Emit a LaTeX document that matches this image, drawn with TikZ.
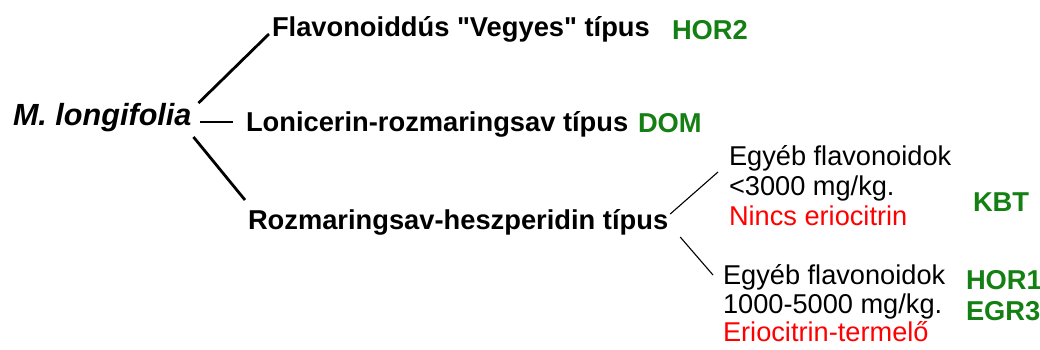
\documentclass[tikz,border=0pt]{standalone}
\usepackage{fontspec}
% plain family without TeX input mapping, so that " stays a straight quote
\newfontfamily\labelfont{Liberation Sans}
\usetikzlibrary{calc}
\definecolor{typegreen}{RGB}{20,128,20}
\definecolor{notered}{RGB}{255,0,0}
\begin{document}
\begin{tikzpicture}[x=1pt,y=-1pt,
  every node/.style={inner sep=0pt,outer sep=0pt},
  species/.style={anchor=base west,font=\labelfont\fontsize{30.6}{34}\selectfont\bfseries\itshape},
  chemotype/.style={anchor=base west,font=\labelfont\fontsize{27.3}{30}\selectfont\bfseries},
  popcode/.style={anchor=base west,font=\labelfont\fontsize{27.3}{30}\selectfont\bfseries,text=typegreen},
  detail/.style={anchor=base west,font=\labelfont\fontsize{27.2}{30}\selectfont},
  mainbranch/.style={line width=2.8pt},
  subbranch/.style={line width=1.1pt}]
\useasboundingbox (0,0) rectangle (1040,349);

% species
\node[species] (root) at (13,125) {M. longifolia};

% chemotypes
\node[chemotype] (flav)  at (272,36)  {Flavonoiddús "Vegyes" típus};
\node[chemotype] (lonic) at (246,131) {Lonicerin-rozmaringsav típus};
\node[chemotype] (rozm)  at (248,229) {Rozmaringsav-heszperidin típus};

% population codes
\node[popcode] (hor2) at (672,39)  {HOR2};
\node[popcode] (dom)  at (638,132) {DOM};
\node[popcode] (kbt)  at (973,211) {KBT};
\node[popcode] (hor1) at (966,289) {HOR1};
\node[popcode] (egr3) at (966,320) {EGR3};

% sub-groups of the rosmarinic acid - hesperidin type
\node[detail] (lowa) at (729,165) {Egyéb flavonoidok};
\node[detail] (lowb) at (729,195) {<3000 mg/kg.};
\node[detail,text=notered] (lowc) at (729,225) {Nincs eriocitrin};
\node[detail] (higha) at (723,284) {Egyéb flavonoidok};
\node[detail] (highb) at (723,313) {1000-5000 mg/kg.};
\node[detail,text=notered] (highc) at (723,341) {Eriocitrin-termelő};

% branches
\draw[mainbranch] ($(root.base east)+(7,-22)$) -- ($(flav.base west)+(-3,-2)$);
\draw[mainbranch] ($(root.base east)+(9,-3)$) -- ($(lonic.base west)+(-13,-9)$);
\draw[mainbranch] ($(root.base east)+(2,12)$) -- ($(rozm.base west)+(-3,-29)$);
\draw[subbranch] ($(rozm.base east)+(2,-15)$) -- ($(lowa.base west)+(-11,7)$);
\draw[subbranch] ($(rozm.base east)+(12,8)$) -- ($(higha.base west)+(-10,-9)$);
\end{tikzpicture}
\end{document}
